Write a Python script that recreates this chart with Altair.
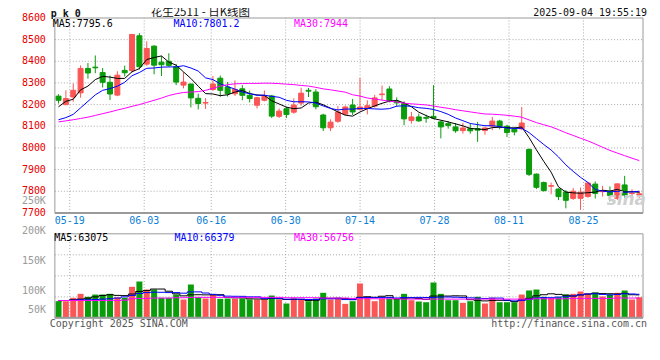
import altair as alt
import pandas as pd

# ---------------- data ----------------
OPEN = [8239, 8200, 8235, 8254, 8367, 8373, 8348, 8303, 8244, 8358,
        8357, 8518, 8387, 8470, 8396, 8400, 8375, 8290, 8295, 8229,
        8207, 8270, 8322, 8281, 8250, 8273, 8243, 8197, 8220, 8240,
        8146, 8181, 8165, 8207, 8266, 8258, 8152, 8093, 8123, 8156,
        8198, 8178, 8183, 8193, 8246, 8272, 8216, 8205, 8127, 8143,
        8140, 8146, 8120, 8112, 8097, 8080, 8089, 8089, 8080, 8101,
        8124, 8100, 8086, 8088, 7993, 7879, 7840, 7823, 7810, 7796,
        7767, 7767, 7776, 7833, 7798, 7798, 7767, 7829, 7789, 7782]
HIGH = [8248, 8266, 8298, 8381, 8392, 8427, 8369, 8334, 8354, 8380,
        8526, 8530, 8492, 8474, 8424, 8437, 8388, 8350, 8297, 8250,
        8230, 8332, 8334, 8304, 8312, 8290, 8265, 8236, 8265, 8245,
        8182, 8190, 8229, 8278, 8277, 8271, 8158, 8132, 8194, 8196,
        8226, 8323, 8220, 8245, 8288, 8285, 8233, 8215, 8166, 8158,
        8153, 8290, 8127, 8124, 8115, 8116, 8112, 8120, 8097, 8143,
        8130, 8107, 8097, 8189, 7998, 7882, 7845, 7840, 7813, 7805,
        7815, 7817, 7840, 7845, 7825, 7822, 7836, 7871, 7809, 7800]
LOW = [8205, 8197, 8213, 8232, 8320, 8345, 8279, 8221, 8239, 8330,
       8348, 8362, 8379, 8340, 8332, 8375, 8290, 8275, 8187, 8178,
       8180, 8263, 8236, 8237, 8240, 8220, 8210, 8182, 8215, 8138,
       8138, 8138, 8158, 8195, 8235, 8178, 8078, 8078, 8116, 8150,
       8152, 8174, 8155, 8186, 8220, 8210, 8190, 8105, 8112, 8120,
       8116, 8133, 8044, 8089, 8070, 8066, 8066, 8028, 8061, 8082,
       8086, 8050, 8058, 8082, 7870, 7810, 7798, 7786, 7759, 7721,
       7760, 7714, 7770, 7766, 7775, 7753, 7760, 7770, 7775, 7770]
CLOSE = [8220, 8228, 8266, 8367, 8346, 8370, 8303, 8249, 8336, 8347,
         8524, 8375, 8459, 8382, 8384, 8381, 8304, 8304, 8231, 8205,
         8210, 8295, 8266, 8250, 8270, 8243, 8228, 8232, 8238, 8147,
         8170, 8154, 8198, 8253, 8262, 8190, 8093, 8119, 8166, 8189,
         8166, 8189, 8195, 8231, 8249, 8216, 8208, 8134, 8143, 8125,
         8137, 8138, 8097, 8104, 8079, 8092, 8079, 8082, 8092, 8124,
         8100, 8071, 8074, 8115, 7878, 7818, 7803, 7826, 7775, 7758,
         7800, 7795, 7838, 7790, 7801, 7780, 7834, 7782, 7791, 7788]

MA5 = [8190, 8215, 8225, 8268, 8285.4, 8315.4, 8330.4, 8327, 8320.8, 8321,
       8351.8, 8366.2, 8408.2, 8417.4, 8424.8, 8396.2, 8382, 8351, 8320.8, 8285,
       8250.8, 8249, 8241.4, 8245.2, 8258.2, 8264.8, 8251.4, 8244.6, 8242.2, 8217.6,
       8203, 8188.2, 8181.4, 8184.4, 8207.4, 8211.4, 8199.2, 8183.4, 8166, 8151.4,
       8146.6, 8165.8, 8181, 8194, 8206, 8216, 8219.8, 8207.6, 8190, 8165.2,
       8149.4, 8135.4, 8128, 8120.2, 8111, 8102, 8090.2, 8087.2, 8084.8, 8093.8,
       8095.4, 8093.8, 8092.2, 8096.8, 8047.6, 7991.2, 7937.6, 7888, 7820, 7796,
       7792.4, 7790.8, 7793.2, 7796.2, 7804.8, 7800.8, 7808.6, 7797.4, 7797.6, 7795]
MA10 = [8130, 8140, 8155, 8185, 8215, 8245, 8266, 8274, 8285, 8303.2,
        8333.6, 8348.3, 8367.6, 8369.1, 8372.9, 8374, 8374.1, 8379.6, 8369.1, 8354.9,
        8323.5, 8315.5, 8296.2, 8283, 8271.6, 8257.8, 8250.2, 8243, 8243.7, 8237.9,
        8233.9, 8219.8, 8213, 8213.3, 8212.5, 8207.2, 8193.7, 8182.4, 8175.2, 8179.4,
        8179, 8182.5, 8182.2, 8180, 8178.7, 8181.3, 8192.8, 8194.3, 8192, 8185.6,
        8182.7, 8177.6, 8167.8, 8155.1, 8138.1, 8125.7, 8112.8, 8107.6, 8102.5, 8102.4,
        8098.7, 8092, 8089.7, 8090.8, 8070.7, 8043.3, 8015.7, 7990.1, 7958.4, 7921.8,
        7891.8, 7864.2, 7840.6, 7808.1, 7800.4, 7796.6, 7799.7, 7795.3, 7796.9, 7799.9]
MA30 = [8120, 8125, 8130, 8136, 8142, 8150, 8158, 8166, 8175, 8183,
        8192, 8200, 8210, 8220, 8230, 8242, 8250, 8256, 8258, 8260,
        8266, 8275, 8285, 8292, 8296, 8297, 8298, 8298, 8299, 8298.7,
        8297, 8294.5, 8292.3, 8288.5, 8285.7, 8279.7, 8272.7, 8268.3, 8262.7, 8257.4,
        8245.5, 8239.3, 8230.5, 8225.4, 8220.9, 8215.4, 8212.2, 8206.6, 8203.6, 8201,
        8198.5, 8193.3, 8187.7, 8182.8, 8176.4, 8171.4, 8166.4, 8161.4, 8156.6, 8155.8,
        8153.5, 8150.7, 8146.6, 8142, 8129.2, 8116.8, 8107.1, 8097.3, 8084.3, 8069.9,
        8057.7, 8044.6, 8032.7, 8018, 8003.1, 7988.5, 7976.1, 7964.3, 7952.6, 7941.4]

# volume in thousands
VOLUME_K = [47.9, 47.9, 57.7, 69.2, 60.6, 67.2, 67.2, 69.2, 59.4, 57.7,
            89.4, 104.7, 81.6, 81.6, 57.7, 57.7, 67.2, 52.8, 96.0, 59.4,
            55.7, 67.2, 54.8, 55.7, 54.8, 55.7, 52.8, 52.8, 52.8, 64.3,
            52.8, 41.3, 55.7, 52.8, 47.9, 55.7, 72.1, 52.8, 55.7, 40.4,
            47.9, 99.0, 60.6, 47.9, 55.7, 55.7, 54.8, 69.2, 50.8, 47.0,
            45.0, 101.8, 69.2, 50.8, 50.8, 43.3, 47.9, 60.6, 41.3, 57.7,
            45.0, 45.0, 45.0, 67.2, 78.8, 81.6, 60.6, 57.7, 59.4, 67.2,
            69.2, 75.9, 70.1, 73.0, 61.5, 67.2, 72.1, 78.8, 52.8, 59.4]
VMA5 = [49, 50, 52, 54, 56.7, 60.5, 64.4, 66.7, 64.7, 64.1,
        68.6, 76.1, 78.6, 83, 83, 76.7, 69.2, 63.4, 66.3, 66.6,
        66.2, 66.2, 66.6, 58.6, 57.6, 57.6, 54.8, 54.4, 53.8, 55.7,
        55.1, 52.8, 53.4, 53.4, 50.1, 50.7, 56.8, 56.3, 56.8, 55.3,
        53.8, 59.2, 60.7, 59.2, 62.2, 63.8, 54.9, 56.7, 57.2, 55.5,
        53.4, 62.8, 62.8, 62.8, 63.5, 63.2, 52.4, 50.7, 48.8, 50.2,
        50.5, 49.9, 46.8, 52, 56.2, 63.5, 66.6, 69.2, 67.6, 65.3,
        62.8, 65.9, 68.4, 71.1, 69.9, 69.5, 68.8, 70.5, 66.5, 66.1]
VMA10 = [50, 50, 51, 52, 52, 53, 54, 55, 57, 60.4,
         64.6, 70.3, 72.7, 73.9, 73.6, 72.7, 72.7, 71, 74.7, 74.8,
         71.5, 67.7, 65, 62.5, 62.1, 61.9, 60.5, 60.5, 56.2, 56.7,
         56.4, 53.8, 53.9, 53.6, 52.9, 52.9, 54.8, 54.9, 55.1, 52.7,
         52.3, 58, 58.5, 58, 58.8, 58.8, 57.1, 58.7, 58.2, 58.9,
         58.6, 58.9, 59.8, 60, 59.5, 58.3, 57.6, 56.8, 55.8, 56.9,
         56.9, 51.2, 48.8, 50.4, 53.2, 57, 58.3, 58, 59.8, 60.8,
         63.2, 66.3, 68.8, 69.4, 67.6, 66.2, 67.4, 69.5, 68.8, 68]
VMA30 = [50, 50, 50, 50, 50, 50, 50, 50, 50, 51,
         55, 56, 56, 57, 57, 57, 58, 58, 59, 59,
         59, 59, 59, 59, 59, 59, 59, 59, 59, 59,
         59, 58, 58, 58, 58, 58, 57, 57, 57, 57,
         56, 55, 55, 55, 55, 55, 55, 54, 54, 54,
         54, 54, 54, 54, 54, 54, 54, 54, 54, 54,
         54, 54, 54, 54, 54, 55, 55, 55, 55, 55,
         56, 56, 56, 56, 56, 56, 57, 57, 57, 56.8]

DATE_LABELS = ["05-19", "06-03", "06-16", "06-30", "07-14", "07-28", "08-11", "08-25"]
DATE_IDX = [2, 12, 21, 31, 41, 51, 61, 71]
PRICE_TICKS = [7700, 7800, 7900, 8000, 8100, 8200, 8300, 8400, 8500, 8600]
VOL_LABELS = ["250K", "200K", "150K", "100K", "50K"]
VOL_LABEL_VALUES = [250, 200, 150, 100, 50]

# ---------------- styling ----------------
RED = "#fb5656"
GREEN = "#0a9c0a"
FRAME = "#9a9a9a"
GRID = "#a9a9a9"
MONO = "DejaVu Sans Mono"

n = len(CLOSE)
PRICE_DOMAIN = [7700, 8600]
VOL_DOMAIN = [0, 242]

df = pd.DataFrame({
    "i": list(range(n)), "open": OPEN, "high": HIGH, "low": LOW, "close": CLOSE,
    "ma5": MA5, "ma10": MA10, "ma30": MA30,
    "vol": VOLUME_K, "vma5": VMA5, "vma10": VMA10, "vma30": VMA30,
})
df["dir"] = ["up" if c >= o else "down" for o, c in zip(OPEN, CLOSE)]

XS = alt.Scale(domain=[-0.5, n - 0.5], nice=False, zero=False)
YP = alt.Scale(domain=PRICE_DOMAIN, range=[196, 0.5], nice=False, zero=False)
YV = alt.Scale(domain=VOL_DOMAIN, range=[301.3, 217], nice=False, zero=False)
YL = alt.Scale(domain=[50, 100, 250], range=[293, 274, 184], nice=False, zero=False)
CS = alt.Scale(domain=["up", "down"], range=[RED, GREEN])

grid_pos = [d * n / (n - 1) - 0.5 for d in DATE_IDX]
df_dates = pd.DataFrame({"g": grid_pos, "label": DATE_LABELS,
                         "p0": PRICE_DOMAIN[0], "p1": PRICE_DOMAIN[1],
                         "v0": VOL_DOMAIN[0], "v1": VOL_DOMAIN[1]})
df_pgrid = pd.DataFrame({"p": PRICE_TICKS[1:-1], "x0": -0.5, "x1": n - 0.5})
df_plab = pd.DataFrame({"p": PRICE_TICKS, "label": [str(t) for t in PRICE_TICKS]})
vgrid_vals = [VOL_DOMAIN[1] * k / 4 for k in (1, 2, 3)]
df_vgrid = pd.DataFrame({"v": vgrid_vals, "x0": -0.5, "x1": n - 0.5})
df_pframe = pd.DataFrame({"x0": [-0.5], "x1": [n - 0.5], "y0": [PRICE_DOMAIN[0]], "y1": [PRICE_DOMAIN[1]]})
df_vframe = pd.DataFrame({"x0": [-0.5], "x1": [n - 0.5], "y0": [VOL_DOMAIN[0]], "y1": [VOL_DOMAIN[1]]})
df_vlab = pd.DataFrame({"v": VOL_LABEL_VALUES, "label": VOL_LABELS})
ONE = pd.DataFrame({"k": [0]})


def X(field):
    return alt.X(field, type="quantitative", scale=XS, axis=None)


def txt(s, x, y, color, size=10, align="left", font=MONO, weight="normal", style="normal"):
    return alt.Chart(ONE).mark_text(
        text=s, align=align, baseline="middle", color=color, fontSize=size,
        font=font, fontWeight=weight, fontStyle=style
    ).encode(x=alt.value(x), y=alt.value(y))


# ---------------- price panel ----------------
base = alt.Chart(df)
p_hgrid = alt.Chart(df_pgrid).mark_rule(color=GRID, strokeDash=[1, 2], strokeWidth=1).encode(
    x=X("x0"), x2="x1", y=alt.Y("p:Q", scale=YP, axis=None))
p_vgrid = alt.Chart(df_dates).mark_rule(color=GRID, strokeDash=[1, 2], strokeWidth=1).encode(
    x=X("g"), y=alt.Y("p0:Q", scale=YP, axis=None), y2="p1")
wicks = base.mark_rule(strokeWidth=1).encode(
    x=X("i"), y=alt.Y("low:Q", scale=YP, axis=None), y2="high",
    color=alt.Color("dir:N", scale=CS, legend=None))
bodies = base.mark_bar(size=5, strokeWidth=1).encode(
    x=X("i"), y=alt.Y("open:Q", scale=YP, axis=None), y2="close",
    color=alt.Color("dir:N", scale=CS, legend=None),
    stroke=alt.Stroke("dir:N", scale=CS, legend=None))
l5 = base.mark_line(color="#000000", strokeWidth=1).encode(x=X("i"), y=alt.Y("ma5:Q", scale=YP, axis=None))
l10 = base.mark_line(color="#0000ff", strokeWidth=1).encode(x=X("i"), y=alt.Y("ma10:Q", scale=YP, axis=None))
l30 = base.mark_line(color="#ff00ff", strokeWidth=1).encode(x=X("i"), y=alt.Y("ma30:Q", scale=YP, axis=None))
p_frame = alt.Chart(df_pframe).mark_rect(fillOpacity=0, stroke=FRAME, strokeWidth=1).encode(
    x=X("x0"), x2="x1", y=alt.Y("y0:Q", scale=YP, axis=None), y2="y1")
p_bottom = alt.Chart(df_pframe).mark_rule(color=FRAME, strokeWidth=2).encode(
    x=X("x0"), x2="x1", y=alt.Y("y0:Q", scale=YP, axis=None))
p_labels = alt.Chart(df_plab).mark_text(
    align="right", baseline="middle", color="#e80000", fontSize=10, font=MONO
).encode(y=alt.Y("p:Q", scale=YP, axis=None), x=alt.value(-4), text="label:N")
d_labels = alt.Chart(df_dates).mark_text(
    align="center", baseline="middle", color="#0b80d6", fontSize=10, font=MONO
).encode(x=X("g"), y=alt.value(204), text="label:N")

price = alt.layer(p_hgrid, p_vgrid, wicks, bodies, l5, l10, l30, p_frame, p_bottom,
                  p_labels, d_labels)

# ---------------- volume panel ----------------
v_hgrid = alt.Chart(df_vgrid).mark_rule(color=GRID, strokeDash=[1, 2], strokeWidth=1).encode(
    x=X("x0"), x2="x1", y=alt.Y("v:Q", scale=YV, axis=None))
v_vgrid = alt.Chart(df_dates).mark_rule(color=GRID, strokeDash=[1, 2], strokeWidth=1).encode(
    x=X("g"), y=alt.Y("v0:Q", scale=YV, axis=None), y2="v1")
vbars = base.mark_bar(size=6).encode(
    x=X("i"), y=alt.Y("vol:Q", scale=YV, axis=None, stack=None),
    color=alt.Color("dir:N", scale=CS, legend=None))
vl5 = base.mark_line(color="#000000", strokeWidth=1, interpolate="step").encode(
    x=X("i"), y=alt.Y("vma5:Q", scale=YV, axis=None))
vl10 = base.mark_line(color="#0000ff", strokeWidth=1, interpolate="step").encode(
    x=X("i"), y=alt.Y("vma10:Q", scale=YV, axis=None))
vl30 = base.mark_line(color="#ff00ff", strokeWidth=1, interpolate="step").encode(
    x=X("i"), y=alt.Y("vma30:Q", scale=YV, axis=None))
v_frame = alt.Chart(df_vframe).mark_rect(fillOpacity=0, stroke=FRAME, strokeWidth=1).encode(
    x=X("x0"), x2="x1", y=alt.Y("y0:Q", scale=YV, axis=None), y2="y1")
v_bottom = alt.Chart(df_vframe).mark_rule(color=FRAME, strokeWidth=2).encode(
    x=X("x0"), x2="x1", y=alt.Y("y0:Q", scale=YV, axis=None))

volume = alt.layer(v_hgrid, v_vgrid, vbars, vl5, vl10, vl30, v_frame, v_bottom)

# ---------------- labels / texts ----------------
v_labels = alt.Chart(df_vlab).mark_text(
    align="right", baseline="middle", color="#9a9a9a", fontSize=10, font=MONO
).encode(y=alt.Y("v:Q", scale=YL, axis=None), x=alt.value(-4), text="label:N")

texts = alt.layer(
    v_labels,
    txt("p k 0", 1, -3.5, "#111111", size=10, weight="bold"),
    txt("花生2511 - 日K线图", 151, -4.2, "#111111", size=11.5, align="center",
        font="Noto Sans CJK SC"),
    txt("2025-09-04 19:55:19", 599, -4.5, "#111111", align="right"),
    txt("MA5:7795.6", 3, 7, "#000000"),
    txt("MA10:7801.2", 124, 7, "#0000ff"),
    txt("MA30:7944", 245, 7, "#ff00ff"),
    txt("MA5:63075", 4.5, 221.5, "#000000"),
    txt("MA10:66379", 125, 221.5, "#0000ff"),
    txt("MA30:56756", 245, 221.5, "#ff00ff"),
    txt("Copyright 2025 SINA.COM", 0, 307, "#555555"),
    txt("http://finance.sina.com.cn", 599, 307, "#555555", align="right"),
    txt("sina", 598, 183, "#cfcfcf", size=17, align="right", font="DejaVu Sans",
        weight="bold", style="italic"),
)

chart = alt.layer(price, volume, texts).resolve_scale(y="independent").properties(
    width=600, height=302,
    padding={"left": 42, "top": 9, "right": 4, "bottom": 22},
    autosize=alt.AutoSizeParams(type="none"),
    background="white",
).configure_view(stroke=None)

chart.save("out.html", embed_options={"renderer": "svg", "actions": False})
